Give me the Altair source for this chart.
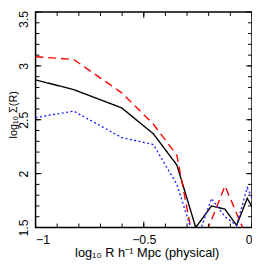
import altair as alt
import pandas as pd

# log10 R bins
x_vals = [-1.0, -0.824, -0.602, -0.456, -0.347, -0.260, -0.187, -0.125, -0.071, -0.022, 0.021]
black_vals = [2.87, 2.78, 2.61, 2.37, 2.08, 1.50, 1.70, 1.67, 1.52, 1.77, 1.62]
red_vals = [3.085, 3.06, 2.75, 2.46, 2.17, 1.25, 1.57, 1.885, 1.63, 1.40, 1.30]
blue_vals = [2.52, 2.58, 2.335, 2.27, 1.90, 1.35, 1.77, 1.60, 1.52, 1.87, 1.69]

series_names = ["black", "red", "blue"]
series_colors = ["#000000", "#ff0000", "#2222ff"]
series_dash = [[1, 0], [8, 5], [2, 2.5]]

x_labels = [-1, -0.5, 0]
y_labels = [1.5, 2, 2.5, 3, 3.5]
x_minor = [round(-1 + 0.1 * i, 2) for i in range(1, 10)]
y_minor = [round(1.5 + 0.1 * i, 2) for i in range(1, 20)]

W, H = 220, 219

rows = []
for name, vals in zip(series_names, [black_vals, red_vals, blue_vals]):
    for xv, yv in zip(x_vals, vals):
        rows.append({"x": xv, "y": yv, "s": name})
df = pd.DataFrame(rows)

xs = alt.Scale(domain=[-1, 0], nice=False, zero=False)
ys = alt.Scale(domain=[1.5, 3.5], nice=False, zero=False)

lines = alt.Chart(df).mark_line(strokeWidth=1.4, clip=True).encode(
    x=alt.X("x:Q", scale=xs, axis=alt.Axis(
        values=x_labels, format="~g", title="log₁₀ R h⁻¹ Mpc (physical)",
        labelPadding=6, titleX=113, titleY=30, titleBaseline="alphabetic",
        titleAnchor="middle", titleFontSize=13)),
    y=alt.Y("y:Q", scale=ys, axis=alt.Axis(
        values=y_labels, format="~g", title="log₁₀ Σ(R)", labelAngle=270,
        labelAlign="center", labelBaseline="alphabetic", labelPadding=8,
        labelOffset=alt.condition("datum.value == 3.5", alt.value(7), alt.value(0)),
        titleX=-28, titleY=104, titleAngle=270, titleBaseline="top",
        titleAlign="center", titleFontSize=11)),
    color=alt.Color("s:N", scale=alt.Scale(domain=series_names, range=series_colors), legend=None),
    strokeDash=alt.StrokeDash("s:N", scale=alt.Scale(domain=series_names, range=series_dash), legend=None),
    detail="s:N",
)

layers = [lines]

def xticks(vals, length):
    d = pd.DataFrame({"v": vals})
    bottom = alt.Chart(d).mark_rule(color="black", strokeWidth=1).encode(
        x=alt.X("v:Q", scale=xs), y=alt.value(H), y2=alt.value(H - length))
    top = alt.Chart(d).mark_rule(color="black", strokeWidth=1).encode(
        x=alt.X("v:Q", scale=xs), y=alt.value(0), y2=alt.value(length))
    return [bottom, top]

def yticks(vals, length):
    d = pd.DataFrame({"v": vals})
    left = alt.Chart(d).mark_rule(color="black", strokeWidth=1).encode(
        y=alt.Y("v:Q", scale=ys), x=alt.value(0), x2=alt.value(length))
    right = alt.Chart(d).mark_rule(color="black", strokeWidth=1).encode(
        y=alt.Y("v:Q", scale=ys), x=alt.value(W), x2=alt.value(W - length))
    return [left, right]

layers += xticks(x_minor, 4) + xticks(x_labels, 6)
layers += yticks(y_minor, 4) + yticks(y_labels, 6)

chart = alt.layer(*layers).properties(
    width=W, height=H,
    autosize=alt.AutoSizeParams(type="none"),
    padding={"left": 28, "top": 2, "right": 0, "bottom": 33},
).configure_view(
    stroke="black", strokeWidth=1.5
).configure_axis(
    domain=False, ticks=False, tickSize=0, grid=False,
    labelFont="Liberation Sans", labelFontSize=12.5, labelColor="black",
    titleFont="Liberation Sans", titleFontSize=12, titleFontWeight="normal",
    titleColor="black",
)

chart.save("out.html", embed_options={"renderer": "svg", "actions": False})
